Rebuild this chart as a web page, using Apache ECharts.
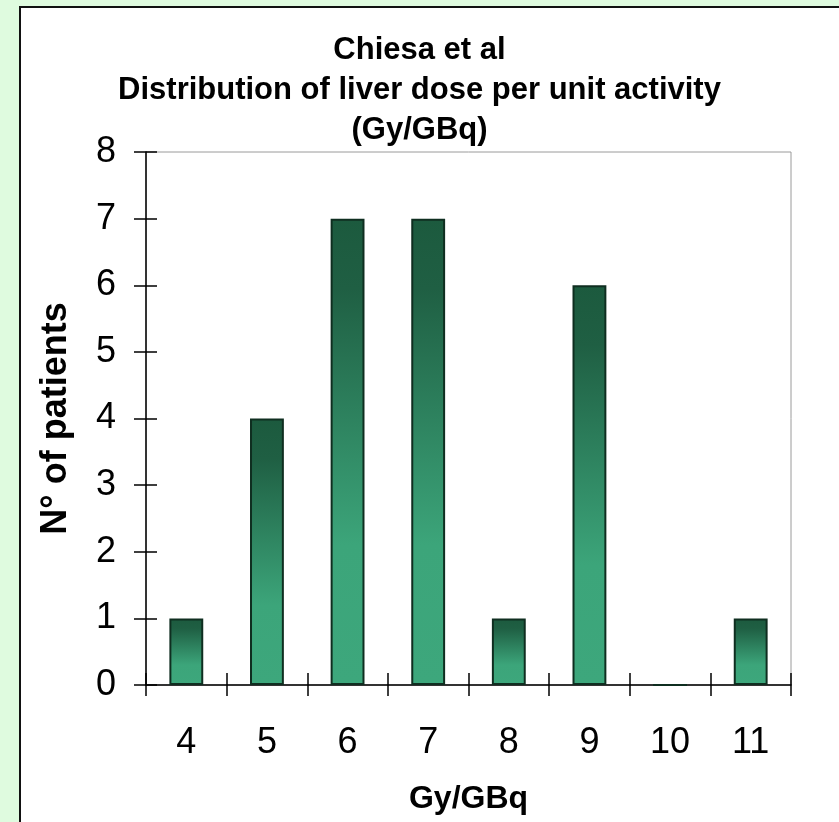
<!DOCTYPE html>
<html>
<head>
<meta charset="utf-8">
<style>
  html, body { margin: 0; padding: 0; background: #dffbdf; overflow: hidden; }
  #chart { width: 839px; height: 822px; }
</style>
<script src="https://cdn.jsdelivr.net/npm/echarts@6/dist/echarts.min.js"></script>
</head>
<body>
<div id="chart"></div>
<script>
// Liver dose per unit activity, histogram of patient counts
const doseBins = ['4', '5', '6', '7', '8', '9', '10', '11'];
const patientCounts = [1, 4, 7, 7, 1, 6, 0, 1];
const countTicks = [0, 1, 2, 3, 4, 5, 6, 7, 8];

const titleLines = ['Chiesa et al', 'Distribution of liver dose per unit activity', '(Gy/GBq)'];
const xName = 'Gy/GBq';
const yName = 'N\u00b0 of patients';

const font = 'Liberation Sans, Arial, sans-serif';
const chart = echarts.init(document.getElementById('chart'), null, { width: 839, height: 822 });

const barFill = new echarts.graphic.LinearGradient(0, 0, 0, 1, [
  { offset: 0, color: '#1c5a3e' },
  { offset: 0.15, color: '#1f5f43' },
  { offset: 0.7, color: '#3ca57a' },
  { offset: 1, color: '#3da77c' }
]);

const yMin = countTicks[0];
const yMax = countTicks[countTicks.length - 1];
const tickLine = { color: '#000', width: 1.5 };

chart.setOption({
  backgroundColor: 'transparent',
  animation: false,
  graphic: [{
    type: 'rect',
    z: -10,
    shape: { x: 20, y: 7, width: 840, height: 830 },
    style: { fill: '#ffffff', stroke: '#111111', lineWidth: 2 }
  }],
  title: {
    text: titleLines.join('\n'),
    left: 'center',
    top: 25,
    textStyle: {
      fontFamily: font, fontWeight: 'bold', fontSize: 31,
      lineHeight: 40, color: '#000'
    }
  },
  grid: {
    left: 146, top: 152, width: 645, height: 533,
    show: true, borderColor: '#9a9a9a', borderWidth: 1,
    backgroundColor: 'transparent'
  },
  xAxis: [{
    type: 'category',
    data: doseBins,
    position: 'bottom',
    name: xName,
    nameLocation: 'middle',
    nameGap: 98,
    nameTextStyle: { fontFamily: font, fontWeight: 'bold', fontSize: 32, color: '#000' },
    axisLine: { show: true, lineStyle: { color: '#000', width: 1.5 } },
    axisTick: { show: true, inside: false, length: 11, lineStyle: tickLine },
    axisLabel: { show: true, fontFamily: font, fontSize: 36, color: '#000', margin: 40 },
    splitLine: { show: false }
  }, {
    type: 'category',
    data: doseBins,
    position: 'bottom',
    axisLine: { show: false },
    axisTick: { show: true, inside: true, length: 12, lineStyle: tickLine },
    axisLabel: { show: false },
    splitLine: { show: false }
  }],
  yAxis: [{
    type: 'value',
    min: yMin, max: yMax, interval: 1,
    position: 'left',
    name: yName,
    nameLocation: 'middle',
    nameGap: 72,
    nameRotate: 90,
    nameTextStyle: { fontFamily: font, fontWeight: 'bold', fontSize: 36, color: '#000' },
    axisLine: { show: true, lineStyle: { color: '#000', width: 1.5 } },
    axisTick: { show: true, inside: false, length: 12, lineStyle: tickLine },
    axisLabel: { fontFamily: font, fontSize: 36, color: '#000', margin: 30 },
    splitLine: { show: false }
  }, {
    type: 'value',
    min: yMin, max: yMax, interval: 1,
    position: 'left',
    axisLine: { show: false },
    axisTick: { show: true, inside: true, length: 11, lineStyle: tickLine },
    axisLabel: { show: false },
    splitLine: { show: false }
  }],
  series: [{
    type: 'bar',
    data: patientCounts,
    barWidth: '42%',
    itemStyle: {
      color: barFill,
      borderColor: '#0f2e20',
      borderWidth: 2
    }
  }]
});
</script>
</body>
</html>
